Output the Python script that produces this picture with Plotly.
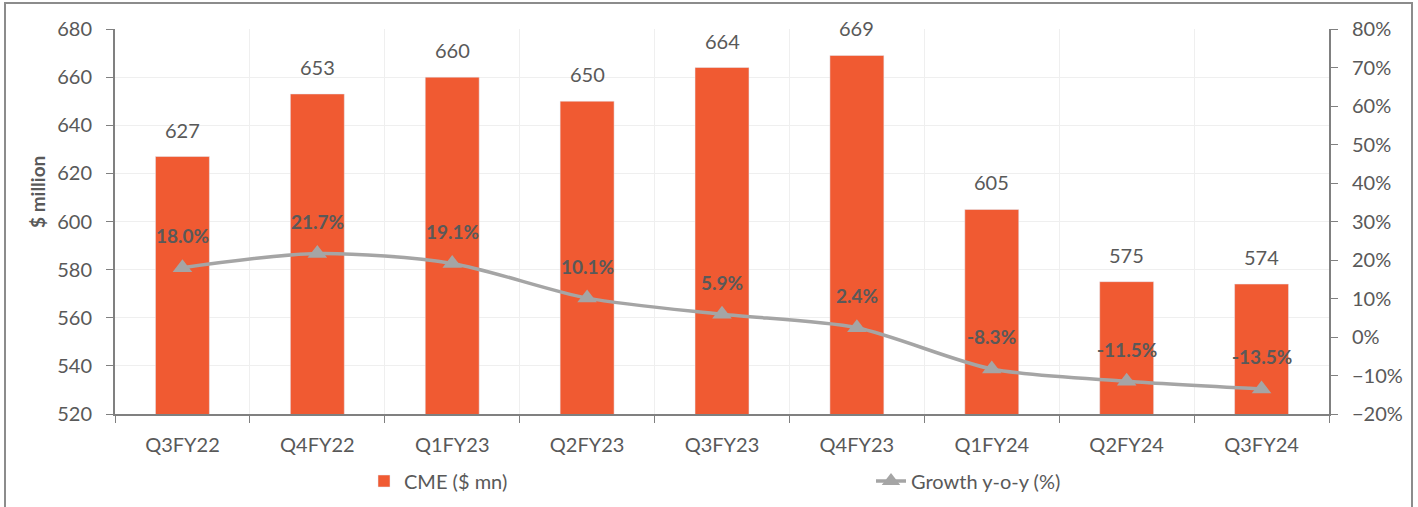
import plotly.graph_objects as go

quarters = ["Q3FY22", "Q4FY22", "Q1FY23", "Q2FY23", "Q3FY23", "Q4FY23", "Q1FY24", "Q2FY24", "Q3FY24"]
cme = [627, 653, 660, 650, 664, 669, 605, 575, 574]
growth = [18.0, 21.7, 19.1, 10.1, 5.9, 2.4, -8.3, -11.5, -13.5]

FONT = "Lato"
TXT = "#595959"
ORANGE = "#F05A32"
LINE = "#A5A5A5"

W, H = 1418, 507
ml, mr, mt, mb = 115, 89, 29, 93
pw, ph = W - ml - mr, H - mt - mb

def px(x):
    return (x - ml) / pw

def py(y):
    return (H - mb - y) / ph

fig = go.Figure()
fig.add_trace(go.Bar(
    x=quarters, y=cme, name="CME ($ mn)", marker_color=ORANGE, width=0.4,
    yaxis="y", legend="legend", showlegend=True,
))
fig.add_trace(go.Scatter(
    x=quarters, y=growth, name="Growth y-o-y (%)", mode="lines+markers",
    line=dict(color=LINE, width=3.5, shape="spline", smoothing=0.8),
    marker=dict(symbol="triangle-up", size=17, color=LINE),
    yaxis="y2", legend="legend2", showlegend=True,
))

annotations = []
for q, v in zip(quarters, cme):
    annotations.append(dict(x=q, y=v, xref="x", yref="y", text=f"{v}", showarrow=False,
                            yshift=27, font=dict(family=FONT, size=20, color=TXT)))
for q, g in zip(quarters, growth):
    annotations.append(dict(x=q, y=g, xref="x", yref="y2", text=f"<b>{g:.1f}%</b>", showarrow=False,
                            yshift=32, font=dict(family=FONT, size=19, color=TXT)))
annotations.append(dict(x=px(37), y=py(192), xref="paper", yref="paper", text="<b>$ million</b>",
                        textangle=-90, showarrow=False, xanchor="center", yanchor="middle",
                        font=dict(family=FONT, size=19, color=TXT)))

fig.update_layout(
    width=W, height=H,
    margin=dict(l=ml, r=mr, t=mt, b=mb, autoexpand=False),
    paper_bgcolor="white", plot_bgcolor="white",
    font=dict(family=FONT, size=19, color=TXT),
    showlegend=True,
    bargap=0.6,
    xaxis=dict(type="category", range=[-0.5, len(quarters) - 0.5], tickson="boundaries",
               ticks="outside", ticklen=7, tickcolor="#808080",
               showline=True, linecolor="#808080", linewidth=2, showgrid=True, gridcolor="#EFEFEF",
               ticklabelstandoff=12, automargin=False,
               tickfont=dict(family=FONT, size=20, color=TXT)),
    yaxis=dict(range=[520, 680], dtick=20, ticks="outside", ticklen=7, tickcolor="#808080",
               showline=True, linecolor="#808080", linewidth=2, showgrid=True, gridcolor="#EFEFEF",
               zeroline=False, ticklabelstandoff=10, automargin=False,
               tickfont=dict(family=FONT, size=20, color=TXT)),
    yaxis2=dict(range=[-20, 80], dtick=10, overlaying="y", side="right", ticks="outside", ticklen=7,
                tickcolor="#808080", showline=True, linecolor="#808080", linewidth=2, showgrid=False,
                zeroline=False, ticksuffix="%", ticklabelstandoff=10, automargin=False,
                tickfont=dict(family=FONT, size=20, color=TXT)),
    legend=dict(orientation="h", x=px(364), y=py(481), yanchor="middle", xanchor="left",
                font=dict(family=FONT, size=20, color=TXT), bgcolor="rgba(0,0,0,0)"),
    legend2=dict(orientation="h", x=px(871), y=py(481), yanchor="middle", xanchor="left",
                 font=dict(family=FONT, size=20, color=TXT), bgcolor="rgba(0,0,0,0)"),
    annotations=annotations,
    shapes=[dict(type="rect", xref="paper", yref="paper", x0=px(5), x1=px(1412), y0=py(520), y1=py(3),
                 line=dict(color="#8C8C8C", width=2), fillcolor="rgba(0,0,0,0)", layer="below")],
)

fig.write_html("out.html")
